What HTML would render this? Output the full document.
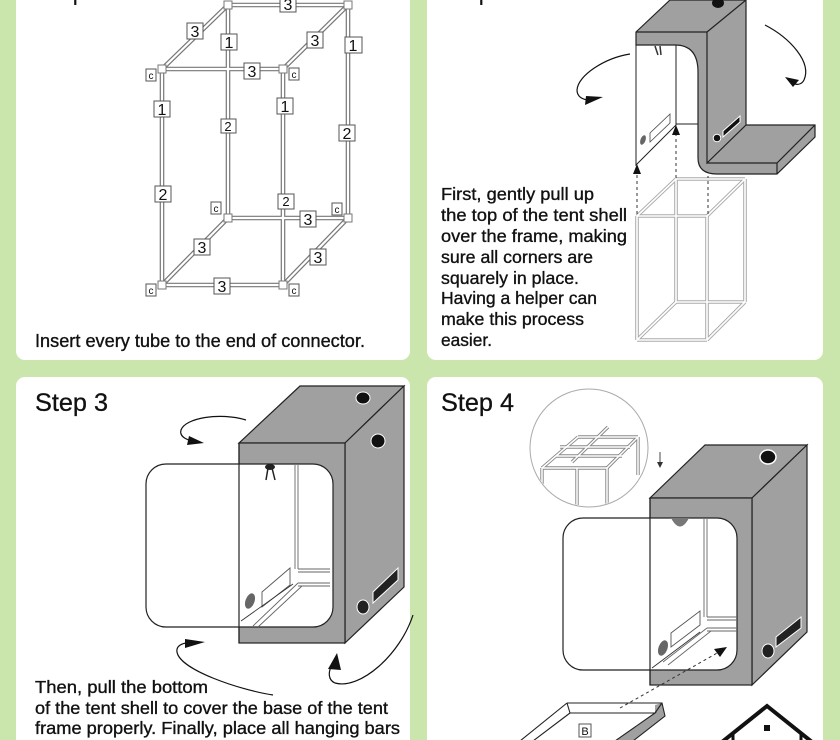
<!DOCTYPE html>
<html><head><meta charset="utf-8"><style>html,body{margin:0;padding:0;background:#cbe6ad}svg{display:block}</style></head>
<body>
<svg width="840" height="740" viewBox="0 0 840 740" xmlns="http://www.w3.org/2000/svg" font-family="'Liberation Sans', Arial, sans-serif">
<defs>
<g id="f1">
<line x1="228" y1="5" x2="228" y2="218"/>
<line x1="228" y1="218" x2="348" y2="218"/>
<line x1="162" y1="285" x2="228" y2="218"/>
<line x1="283" y1="285" x2="348" y2="218"/>
<line x1="228" y1="5" x2="348" y2="5"/>
<line x1="348" y1="5" x2="348" y2="218"/>
<line x1="162" y1="69" x2="228" y2="5"/>
<line x1="283" y1="69" x2="348" y2="5"/>
<line x1="162" y1="69" x2="283" y2="69"/>
<line x1="162" y1="69" x2="162" y2="285"/>
<line x1="283" y1="69" x2="283" y2="285"/>
<line x1="162" y1="285" x2="283" y2="285"/>
</g>
<g id="f2">
<line x1="676" y1="179" x2="676" y2="302"/>
<line x1="676" y1="302" x2="745" y2="302"/>
<line x1="637" y1="340" x2="676" y2="302"/>
<line x1="707" y1="340" x2="745" y2="302"/>
<line x1="676" y1="179" x2="745" y2="179"/>
<line x1="745" y1="179" x2="745" y2="302"/>
<line x1="637" y1="216" x2="676" y2="179"/>
<line x1="707" y1="216" x2="745" y2="179"/>
<line x1="637" y1="216" x2="707" y2="216"/>
<line x1="637" y1="216" x2="637" y2="340"/>
<line x1="707" y1="216" x2="707" y2="340"/>
<line x1="637" y1="340" x2="707" y2="340"/>
</g>
<g id="f4">
<line x1="577" y1="468" x2="577" y2="512"/>
<line x1="638" y1="437" x2="638" y2="475"/>
<line x1="578" y1="437" x2="638" y2="437"/>
<line x1="560" y1="447" x2="630" y2="447"/>
<line x1="556" y1="456" x2="622" y2="456"/>
<line x1="542" y1="468" x2="578" y2="437"/>
<line x1="607" y1="468" x2="638" y2="437"/>
<line x1="542" y1="468" x2="607" y2="468"/>
<line x1="542" y1="468" x2="542" y2="512"/>
<line x1="607" y1="468" x2="607" y2="512"/>
<line x1="572" y1="462" x2="608" y2="427"/>
</g>
<clipPath id="cc"><circle cx="589" cy="448" r="58"/></clipPath>
</defs>

<rect width="840" height="740" fill="#cbe6ad"/>
<rect x="16" y="-20" width="394" height="380" rx="9" fill="#fff"/>
<rect x="427" y="-20" width="396" height="380" rx="9" fill="#fff"/>
<rect x="16" y="377" width="394" height="400" rx="9" fill="#fff"/>
<rect x="427" y="377" width="396" height="400" rx="9" fill="#fff"/>

<!-- ===== Panel 1 ===== -->
<text x="35" y="0" font-size="25" fill="#111">Step 1</text>
<use href="#f1" stroke="#777" stroke-width="4.6" fill="none"/>
<use href="#f1" stroke="#fff" stroke-width="2.2" fill="none"/>
<g fill="#fff" stroke="#777" stroke-width="1">
<rect x="158" y="65" width="8" height="8"/><rect x="279" y="65" width="8" height="8"/>
<rect x="158" y="281" width="8" height="8"/><rect x="279" y="281" width="8" height="8"/>
<rect x="224" y="1" width="8" height="8"/><rect x="344" y="1" width="8" height="8"/>
<rect x="224" y="214" width="8" height="8"/><rect x="344" y="214" width="8" height="8"/>
</g>
<g font-size="16" text-anchor="middle" fill="#111">
<g fill="#fff" stroke="#555" stroke-width="1">
<rect x="187" y="23" width="16" height="16"/><rect x="221" y="34" width="16" height="16"/>
<rect x="280" y="-4" width="16" height="16"/><rect x="307" y="32" width="16" height="16"/>
<rect x="345" y="37" width="17" height="16"/><rect x="244" y="63" width="16" height="16"/>
<rect x="154" y="101" width="16" height="16"/><rect x="277" y="98" width="16" height="16"/>
<rect x="221" y="119" width="15" height="14"/><rect x="339" y="125" width="16" height="16"/>
<rect x="155" y="186" width="16" height="16"/><rect x="278" y="194" width="16" height="15"/>
<rect x="300" y="211" width="16" height="16"/><rect x="194" y="239" width="16" height="16"/>
<rect x="310" y="249" width="16" height="16"/><rect x="214" y="278" width="16" height="16"/>
<rect x="146" y="69" width="10" height="12"/><rect x="289" y="68" width="10" height="12"/>
<rect x="211" y="202" width="10" height="12"/><rect x="332" y="203" width="10" height="12"/>
<rect x="146" y="284" width="10" height="12"/><rect x="289" y="284" width="10" height="12"/>
</g>
<text x="195" y="37">3</text><text x="229" y="48">1</text><text x="288" y="10">3</text>
<text x="315" y="46">3</text><text x="353" y="51">1</text><text x="252" y="77">3</text>
<text x="162" y="115">1</text><text x="285" y="112">1</text>
<text x="228" y="131" font-size="13">2</text><text x="347" y="139">2</text>
<text x="163" y="200">2</text><text x="286" y="206" font-size="13">2</text>
<text x="308" y="225">3</text><text x="202" y="253">3</text>
<text x="318" y="263">3</text><text x="222" y="292">3</text>
<g font-size="10"><text x="151" y="79">c</text><text x="294" y="78">c</text>
<text x="216" y="212">c</text><text x="337" y="213">c</text>
<text x="151" y="294">c</text><text x="294" y="294">c</text></g>
</g>
<text x="35" y="347" font-size="18" fill="#111" stroke="#111" stroke-width="0.35" textLength="330" lengthAdjust="spacingAndGlyphs">Insert every tube to the end of connector.</text>

<!-- ===== Panel 2 ===== -->
<text x="441" y="0" font-size="25" fill="#111">Step 2</text>
<use href="#f2" stroke="#aaa" stroke-width="3.6" fill="none"/>
<use href="#f2" stroke="#fff" stroke-width="1.6" fill="none"/>
<path d="M636,32 L670,0 L746,0 L746,125 L815,125 L815,137 L777,174 L717,174 Q698,174 698,158 L698,72 Q698,45 675,45 L636,45 Z" fill="#a0a0a0" stroke="#222" stroke-width="1.2"/>
<path d="M636,32 L707,32 L746,0 M707,32 L707,163 L746,125 M707,163 L777,163 L815,125 M777,163 L777,174" fill="none" stroke="#222" stroke-width="1.2"/>
<ellipse cx="718" cy="3" rx="6" ry="5" fill="#111"/>
<circle cx="717" cy="138" r="3.8" fill="#111" stroke="#fff" stroke-width="1"/>
<polygon points="723,131 740,116 740,122 723,137" fill="#111" stroke="#fff" stroke-width="1"/>
<path d="M636,45 L636,165 L676,125 L676,45 M676,124 L698,124" fill="none" stroke="#222" stroke-width="1"/>
<polygon points="650,133 670,114 670,123 650,142" fill="none" stroke="#444" stroke-width="0.8"/>
<ellipse cx="643" cy="140" rx="2.5" ry="5" fill="#666" transform="rotate(20 643 140)"/>
<path d="M655,46 L658,55 M660,46 L661,55" stroke="#333" stroke-width="1.5"/>
<g stroke="#333" stroke-width="1" stroke-dasharray="3,3">
<line x1="637" y1="214" x2="637" y2="172"/><line x1="676" y1="178" x2="676" y2="133"/><line x1="708" y1="214" x2="708" y2="176"/>
</g>
<polygon points="637,164 633,174 641,174" fill="#111"/>
<polygon points="676,125 672,135 680,135" fill="#111"/>
<path d="M630,54 C605,58 578,75 577,90 C577,97 583,100 590,100" fill="none" stroke="#111" stroke-width="1.2"/>
<polygon points="586,96 603,97 585,105" fill="#111"/>
<path d="M765,25 C790,38 812,62 804,80 C802,84 798,85 795,84" fill="none" stroke="#111" stroke-width="1.2"/>
<polygon points="785,77 799,80 793,87" fill="#111"/>
<g font-size="17.5" fill="#111" stroke="#111" stroke-width="0.35">
<text x="441" y="200" textLength="153" lengthAdjust="spacingAndGlyphs">First, gently pull up</text>
<text x="441" y="221" textLength="186" lengthAdjust="spacingAndGlyphs">the top of the tent shell</text>
<text x="441" y="242" textLength="186" lengthAdjust="spacingAndGlyphs">over the frame, making</text>
<text x="441" y="263" textLength="152" lengthAdjust="spacingAndGlyphs">sure all corners are</text>
<text x="441" y="284" textLength="138" lengthAdjust="spacingAndGlyphs">squarely in place.</text>
<text x="441" y="304" textLength="156" lengthAdjust="spacingAndGlyphs">Having a helper can</text>
<text x="441" y="325" textLength="143" lengthAdjust="spacingAndGlyphs">make this process</text>
<text x="441" y="346" textLength="51" lengthAdjust="spacingAndGlyphs">easier.</text>
</g>

<!-- ===== Panel 3 ===== -->
<text x="35" y="411" font-size="25" fill="#111" stroke="#111" stroke-width="0.3" textLength="73" lengthAdjust="spacingAndGlyphs">Step 3</text>
<polygon points="239,443 345,443 404,386 300,386" fill="#a0a0a0" stroke="#222" stroke-width="1.2"/>
<polygon points="345,443 404,386 404,587 345,643" fill="#a0a0a0" stroke="#222" stroke-width="1.2"/>
<rect x="239" y="443" width="106" height="200" fill="#a0a0a0" stroke="#222" stroke-width="1.2"/>
<rect x="146" y="464" width="187" height="163" rx="20" fill="#fff" stroke="#222" stroke-width="1.2"/>
<line x1="239" y1="443" x2="239" y2="643" stroke="#222" stroke-width="1.2"/>
<g stroke="#666" stroke-width="0.9" fill="none">
<path d="M295,465 L295,569 M298,465 L298,569 M298,569 L330,569 M298,572 L330,572 M298,583 L330,583 M298,586 L330,586 M298,583 L253,626 M302,586 L258,627"/>
<polygon points="262,592 290,568 290,585 262,607" stroke="#555"/>
</g>
<line x1="241" y1="621" x2="293" y2="584" stroke="#333" stroke-width="0.9"/>
<ellipse cx="250" cy="601" rx="4.5" ry="8" fill="#666" transform="rotate(20 250 601)"/>
<ellipse cx="270" cy="467" rx="5" ry="3" fill="#222"/>
<path d="M268,468 L266,480 M272,468 L275,480" stroke="#222" stroke-width="1.5"/>
<ellipse cx="363" cy="398" rx="7" ry="6" fill="#111" stroke="#fff" stroke-width="1"/>
<ellipse cx="378" cy="441" rx="7" ry="7" fill="#111" stroke="#fff" stroke-width="1"/>
<polygon points="373,592 398,568 398,580 373,603" fill="#222" stroke="#fff" stroke-width="1"/>
<ellipse cx="363" cy="607" rx="6" ry="7" fill="#222" stroke="#fff" stroke-width="1"/>
<path d="M246,420 C220,412 185,418 181,430 C179,437 188,441 196,441" fill="none" stroke="#111" stroke-width="1.2"/>
<polygon points="189,436 204,443 187,445" fill="#111"/>
<path d="M273,695 C240,690 180,670 177,652 C176,646 182,643 188,643" fill="none" stroke="#111" stroke-width="1.2"/>
<polygon points="185,639 205,642 185,648" fill="#111"/>
<path d="M413,615 C400,655 360,690 335,683 C328,680 328,672 332,665" fill="none" stroke="#111" stroke-width="1.2"/>
<polygon points="328,669 337,653 341,670" fill="#111"/>
<g font-size="17.5" fill="#111" stroke="#111" stroke-width="0.35">
<text x="35" y="693" textLength="173" lengthAdjust="spacingAndGlyphs">Then, pull the bottom</text>
<text x="35" y="714" textLength="353" lengthAdjust="spacingAndGlyphs">of the tent shell to cover the base of the tent</text>
<text x="35" y="734" textLength="365" lengthAdjust="spacingAndGlyphs">frame properly. Finally, place all hanging bars</text>
</g>

<!-- ===== Panel 4 ===== -->
<text x="441" y="411" font-size="25" fill="#111" stroke="#111" stroke-width="0.3" textLength="73" lengthAdjust="spacingAndGlyphs">Step 4</text>
<circle cx="589" cy="448" r="59" fill="#fff" stroke="#aaa" stroke-width="1"/>
<g clip-path="url(#cc)">
<use href="#f4" stroke="#888" stroke-width="3.4" fill="none"/>
<use href="#f4" stroke="#fff" stroke-width="1.5" fill="none"/>
</g>
<path d="M660,452 L660,465" stroke="#333" stroke-width="0.9"/>
<polygon points="657,462 663,462 660,468" fill="#333"/>
<polygon points="650,498 752,498 807,445 705,445" fill="#a0a0a0" stroke="#222" stroke-width="1.2"/>
<polygon points="752,498 807,445 807,632 752,685" fill="#a0a0a0" stroke="#222" stroke-width="1.2"/>
<rect x="650" y="498" width="102" height="187" fill="#a0a0a0" stroke="#222" stroke-width="1.2"/>
<rect x="563" y="518" width="174" height="152" rx="20" fill="#fff" stroke="#222" stroke-width="1.2"/>
<line x1="650" y1="498" x2="650" y2="685" stroke="#222" stroke-width="1.2"/>
<path d="M671,518 Q680,535 689,518 Z" fill="#777"/>
<g stroke="#666" stroke-width="0.9" fill="none">
<path d="M704,519 L704,617 M707,519 L707,617 M707,617 L737,617 M707,620 L737,620 M707,628 L737,628 M707,631 L737,631 M707,628 L663,662 M711,631 L668,665"/>
<polygon points="671,633 700,611 700,625 671,647" stroke="#555"/>
</g>
<line x1="652" y1="668" x2="700" y2="632" stroke="#333" stroke-width="0.9"/>
<ellipse cx="663" cy="648" rx="4.5" ry="8" fill="#666" transform="rotate(20 663 648)"/>
<ellipse cx="768" cy="457" rx="8" ry="7" fill="#111" stroke="#fff" stroke-width="1.5"/>
<ellipse cx="768" cy="651" rx="6" ry="7" fill="#222" stroke="#fff" stroke-width="1"/>
<polygon points="776,637 801,617 801,628 776,647" fill="#222" stroke="#fff" stroke-width="1"/>
<line x1="620" y1="708" x2="719" y2="652" stroke="#333" stroke-width="1" stroke-dasharray="3,3"/>
<polygon points="727,647 714,649 720,657" fill="#111"/>
<polygon points="655,705 662,703 665,716 633,741 615,741 655,713" fill="#a0a0a0"/>
<path d="M567,703 L662,703 L665,716 L633,741 M567,703 L520,741 M567,703 L570,713 L655,713 L615,741 M570,713 L533,741 M655,713 L662,703" fill="none" stroke="#222" stroke-width="1.1"/>
<rect x="579" y="724" width="12" height="13" fill="#fff" stroke="#444" stroke-width="0.9"/>
<text x="585" y="735" font-size="11" text-anchor="middle" fill="#111">B</text>
<path d="M722,742 L767,706 L812,742" fill="none" stroke="#111" stroke-width="4"/>
<rect x="764" y="725" width="6" height="6" fill="#111"/>
<path d="M733,733 L733,741 M801,733 L801,741" stroke="#111" stroke-width="3"/>
</svg>
</body></html>
